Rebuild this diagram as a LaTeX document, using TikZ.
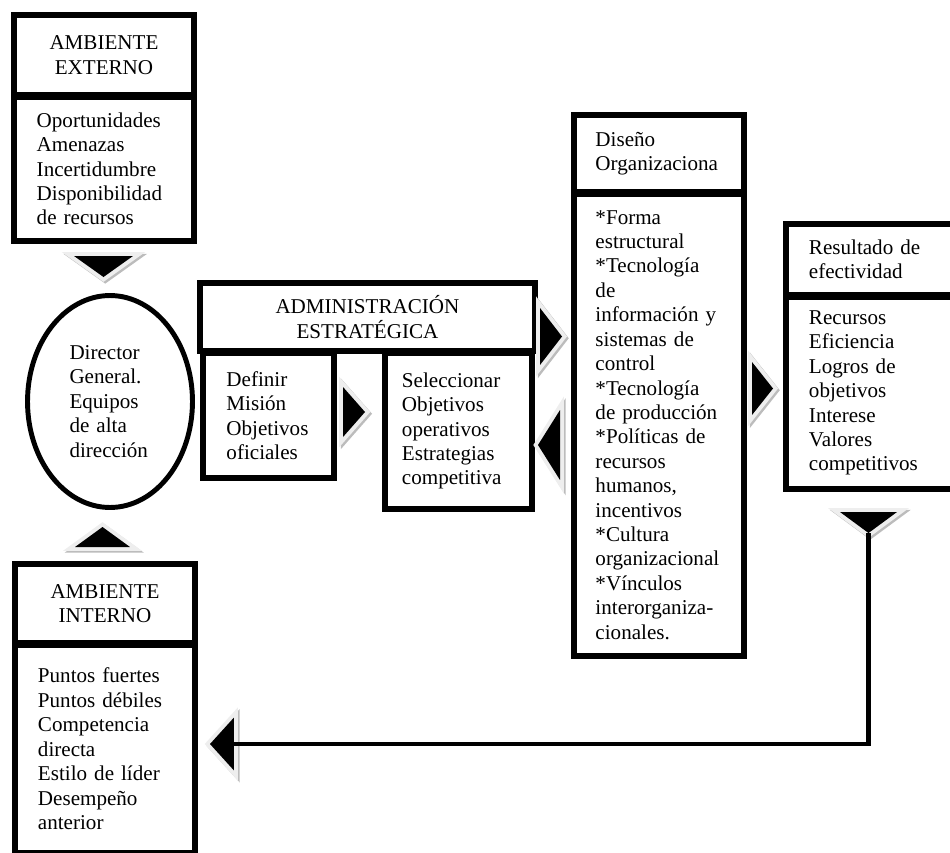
\documentclass[tikz,border=0pt]{standalone}
\usepackage{fontspec}
\setmainfont{Liberation Serif}
\usetikzlibrary{shapes.geometric,positioning}
\definecolor{chevgray}{RGB}{238,238,238}
\definecolor{chevshadow}{RGB}{188,188,188}

\begin{document}
\begin{tikzpicture}[x=0.02cm,y=-0.02cm,font=\fontsize{12pt}{13.9pt}\selectfont]
 \tikzstyle{headbox} = [draw,line width=3.4pt,rectangle,anchor=north west,inner sep=0pt]
 \tikzstyle{bodybox} = [draw,line width=3.4pt,rectangle,inner sep=0pt,align=left]
 \tikzstyle{pointer} = [isosceles triangle,isosceles triangle stretches,inner sep=0pt,outer sep=0pt,fill=black,
   preaction={draw=chevshadow,line width=4.5pt,transform canvas={shift={(1pt,-1pt)}}},
   preaction={draw=chevgray,line width=4.5pt}]
 \tikzstyle{feedback} = [line width=2.8pt]
 \path[use as bounding box,clip] (0,0) rectangle (950,852);
		% Ambiente externo
		\node[headbox,align=center,minimum width=3.6cm,minimum height=1.6cm] (hdrExt) at (11,12) {AMBIENTE\\EXTERNO};
		\node[bodybox,below=-0.08cm of hdrExt,minimum width=3.6cm,minimum height=2.88cm,text width=2.69cm] (lstExt) {Oportunidades\\Amenazas\\Incertidumbre\\Disponibilidad\\de recursos};
		% Director
		\node[draw,ellipse,line width=2.8pt,minimum width=3.3cm,minimum height=4.24cm,inner sep=0pt,text width=1.62cm,align=left] (dir) at (110,401.5) {Director\\General.\\Equipos\\de alta\\dirección};
		% Ambiente interno
		\node[headbox,align=center,minimum width=3.6cm,minimum height=1.58cm] (hdrInt) at (12,561) {AMBIENTE\\INTERNO};
		\node[bodybox,below=-0.08cm of hdrInt,minimum width=3.6cm,minimum height=4.16cm,text width=2.68cm] (lstInt) {Puntos fuertes\\Puntos débiles\\Competencia\\directa\\Estilo de líder\\Desempeño\\anterior};
		% Administracion estrategica
		\node[headbox,align=center,minimum width=6.7cm,minimum height=1.36cm] (hdrAdm) at (197,280) {ADMINISTRACIÓN\\ESTRATÉGICA};
		\node[headbox,align=left,minimum width=2.62cm,minimum height=2.5cm,text width=1.68cm] (def) at (200,350) {Definir\\Misión\\Objetivos\\oficiales};
		\node[headbox,align=left,minimum width=2.94cm,minimum height=3.12cm,text width=2.26cm] (sel) at (382,350) {Seleccionar\\Objetivos\\operativos\\Estrategias\\competitiva};
		% Diseno organizacional
		\node[headbox,align=left,minimum width=3.4cm,minimum height=1.54cm,text width=2.54cm] (hdrDis) at (571,112) {Diseño\\Organizaciona};
		\node[bodybox,below=-0.08cm of hdrDis,minimum width=3.4cm,minimum height=9.24cm,text width=2.54cm] (lstDis) {*Forma\\estructural\\{}*Tecnología\\de\\información y\\sistemas de\\control\\{}*Tecnología\\de producción\\{}*Políticas de\\recursos\\humanos,\\incentivos\\{}*Cultura\\organizacional\\{}*Vínculos\\interorganiza-\\cionales.};
		% Resultado
		\node[headbox,align=left,minimum width=3.42cm,minimum height=1.42cm,text width=2.5cm] (hdrRes) at (783,221) {Resultado de\\efectividad};
		\node[bodybox,below=-0.08cm of hdrRes,minimum width=3.42cm,minimum height=3.84cm,text width=2.5cm] (lstRes) {Recursos\\Eficiencia\\Logros de\\objetivos\\Interese\\Valores\\competitivos};
		% Pointers
		\node[pointer,rotate=-90,minimum height=0.42cm,minimum width=1.18cm,anchor=apex] (tipExt) at (103.5,277) {};
		\node[pointer,rotate=90,minimum height=0.40cm,minimum width=1.10cm,anchor=apex] (tipInt) at (102.5,527) {};
		\node[pointer,minimum height=0.44cm,minimum width=1.0cm,anchor=apex] (tipDef) at (365,412) {};
		\node[pointer,minimum height=0.44cm,minimum width=1.14cm,anchor=apex] (tipAdm) at (562,336.5) {};
		\node[pointer,rotate=180,minimum height=0.44cm,minimum width=1.40cm,anchor=apex] (tipSel) at (538,445) {};
		\node[pointer,minimum height=0.42cm,minimum width=1.06cm,anchor=apex] (tipRes) at (773,388.5) {};
		\node[pointer,rotate=-90,minimum height=0.42cm,minimum width=1.14cm,anchor=apex] (tipOut) at (868.5,533) {};
		\node[pointer,rotate=180,minimum height=0.48cm,minimum width=1.06cm,anchor=apex] (tipBack) at (210,744) {};
		% Feedback
		\coordinate (bend) at (tipOut.apex |- tipBack.lower side);
		\draw[feedback] (tipOut.apex) -- (bend) -- (tipBack.lower side);
\end{tikzpicture}
\end{document}
